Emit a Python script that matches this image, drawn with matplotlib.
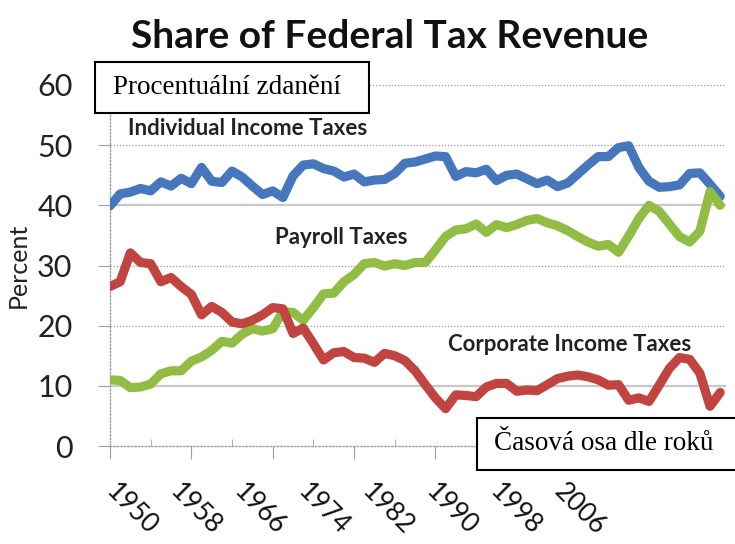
import matplotlib.pyplot as plt
from matplotlib.patches import Rectangle

# Share of federal tax revenue (percent), 1950-2010
years = list(range(1950, 2011))
individual = [39.9, 41.9, 42.2, 42.8, 42.4, 43.9, 43.2, 44.5, 43.6, 46.3,
              44.0, 43.8, 45.7, 44.7, 43.2, 41.8, 42.4, 41.3, 44.9, 46.7,
              46.9, 46.1, 45.7, 44.7, 45.2, 43.9, 44.2, 44.3, 45.3, 47.0,
              47.2, 47.7, 48.2, 48.1, 44.8, 45.6, 45.4, 46.0, 44.1, 45.0,
              45.2, 44.4, 43.6, 44.2, 43.1, 43.7, 45.2, 46.7, 48.1, 48.1,
              49.6, 49.9, 46.3, 44.0, 43.0, 43.1, 43.4, 45.3, 45.4, 43.5,
              41.5]
corporate = [26.5, 27.3, 32.1, 30.5, 30.3, 27.3, 28.0, 26.5, 25.2, 21.8,
             23.2, 22.2, 20.6, 20.3, 20.9, 21.8, 23.0, 22.8, 18.7, 19.6,
             17.0, 14.3, 15.5, 15.7, 14.7, 14.6, 13.9, 15.4, 15.0, 14.2,
             12.5, 10.2, 8.0, 6.2, 8.5, 8.4, 8.2, 9.8, 10.4, 10.4,
             9.1, 9.3, 9.2, 10.2, 11.2, 11.6, 11.8, 11.5, 11.0, 10.1,
             10.2, 7.6, 8.0, 7.4, 10.1, 12.9, 14.7, 14.4, 12.1, 6.6,
             8.9]
payroll = [11.0, 10.9, 9.7, 9.8, 10.3, 12.0, 12.5, 12.5, 14.1, 14.8,
           15.9, 17.4, 17.1, 18.6, 19.5, 19.1, 19.5, 22.3, 22.2, 20.9,
           23.0, 25.3, 25.4, 27.3, 28.5, 30.3, 30.5, 29.9, 30.3, 30.0,
           30.5, 30.5, 32.6, 34.8, 35.9, 36.1, 36.9, 35.5, 36.8, 36.3,
           36.8, 37.5, 37.8, 37.1, 36.6, 35.8, 34.8, 33.9, 33.2, 33.5,
           32.2, 34.9, 37.8, 40.0, 39.0, 36.9, 34.8, 33.9, 35.7, 42.3,
           40.0]

label_years = [1950, 1958, 1966, 1974, 1982, 1990, 1998, 2006]
y_ticks = [0, 10, 20, 30, 40, 50, 60]

fig = plt.figure(figsize=(7.35, 5.44), dpi=100)
ax = fig.add_axes([110 / 735, 1 - 446 / 544, 616 / 735, 361 / 544])

line_kw = dict(lw=6.6, solid_joinstyle="round", solid_capstyle="round")
ax.plot(years, individual, color="#4677bd", zorder=3, **line_kw)
ax.plot(years, payroll, color="#91bd45", zorder=3, **line_kw)
ax.plot(years, corporate, color="#c0443f", zorder=4, **line_kw)

ax.set_xlim(1950, 1950 + 616 / 10.17)
ax.set_ylim(0, 60)

# gridlines: mix of dotted and solid light grey like the source
for v in y_ticks[1:]:
    if v in (10, 40):
        ax.axhline(v, color="#c8c8c8", lw=1.6, zorder=1)
    else:
        ax.axhline(v, color="#9a9a9a", lw=0.9, ls=(0, (1, 1.5)), zorder=1)

for side in ["top", "right"]:
    ax.spines[side].set_visible(False)
for side in ["left", "bottom"]:
    ax.spines[side].set_color("#a0a0a0")
    ax.spines[side].set_linestyle((0, (1, 1.5)))
    ax.spines[side].set_linewidth(1.0)

ax.set_yticks(y_ticks)
ax.tick_params(axis="y", length=9, color="#a0a0a0", pad=18, labelsize=22,
               labelcolor="#222222")
for t in ax.get_yticklabels():
    t.set_family("Lato")

ax.set_xticks(label_years)
ax.set_xticks([y + 4 for y in label_years], minor=True)
ax.tick_params(axis="x", which="major", length=9, color="#a0a0a0",
               labelbottom=False)
ax.tick_params(axis="x", which="minor", length=5, direction="in",
               color="#a0a0a0")

# the year labels in the source sit closer together than the ticks
ax2 = ax.twiny()
left = 1950 - 9 / 8
ax2.set_xlim(left, left + 616 / 8)
ax2.xaxis.set_ticks_position("bottom")
ax2.xaxis.set_label_position("bottom")
ax2.set_xticks(label_years)
ax2.set_xticklabels([str(y) for y in label_years], rotation=-45,
                    ha="left", va="top", rotation_mode="anchor",
                    fontsize=19, family="Lato", color="#111111")
ax2.tick_params(axis="x", length=0, pad=24)
for s in ax2.spines.values():
    s.set_visible(False)

ax.set_ylabel("Percent", fontsize=18, family="Lato", color="#222222")
ax.yaxis.set_label_coords(-0.13, 0.5)

fig.text(390 / 735, 1 - 36 / 544, "Share of Federal Tax Revenue",
         ha="center", va="center", fontsize=28, fontweight="bold",
         family="Lato", color="#111111")

label_kw = dict(fontsize=16, fontweight="bold", family="Lato",
                color="#222222", va="center")
ax.text(1951.8, 52.8, "Individual Income Taxes", **label_kw)
ax.text(1966.2, 34.7, "Payroll Taxes", **label_kw)
ax.text(1983.2, 16.8, "Corporate Income Taxes", **label_kw)

# overlaid caption boxes
for (x0, y0, x1, y1), txt, cx in [
        ((95, 62, 369, 113), "Procentuální zdanění", 227),
        ((477, 418, 737, 470), "Časová osa dle roků", 604)]:
    fig.add_artist(Rectangle((x0 / 735, 1 - y1 / 544), (x1 - x0) / 735,
                             (y1 - y0) / 544, transform=fig.transFigure,
                             facecolor="white", edgecolor="black", lw=1.5,
                             zorder=10))
    fig.text(cx / 735, 1 - (y0 + y1) / 2 / 544, txt, ha="center",
             va="center", fontsize=19.5, family="Liberation Serif",
             color="black", zorder=11)

fig.savefig("out.png", dpi=100)
